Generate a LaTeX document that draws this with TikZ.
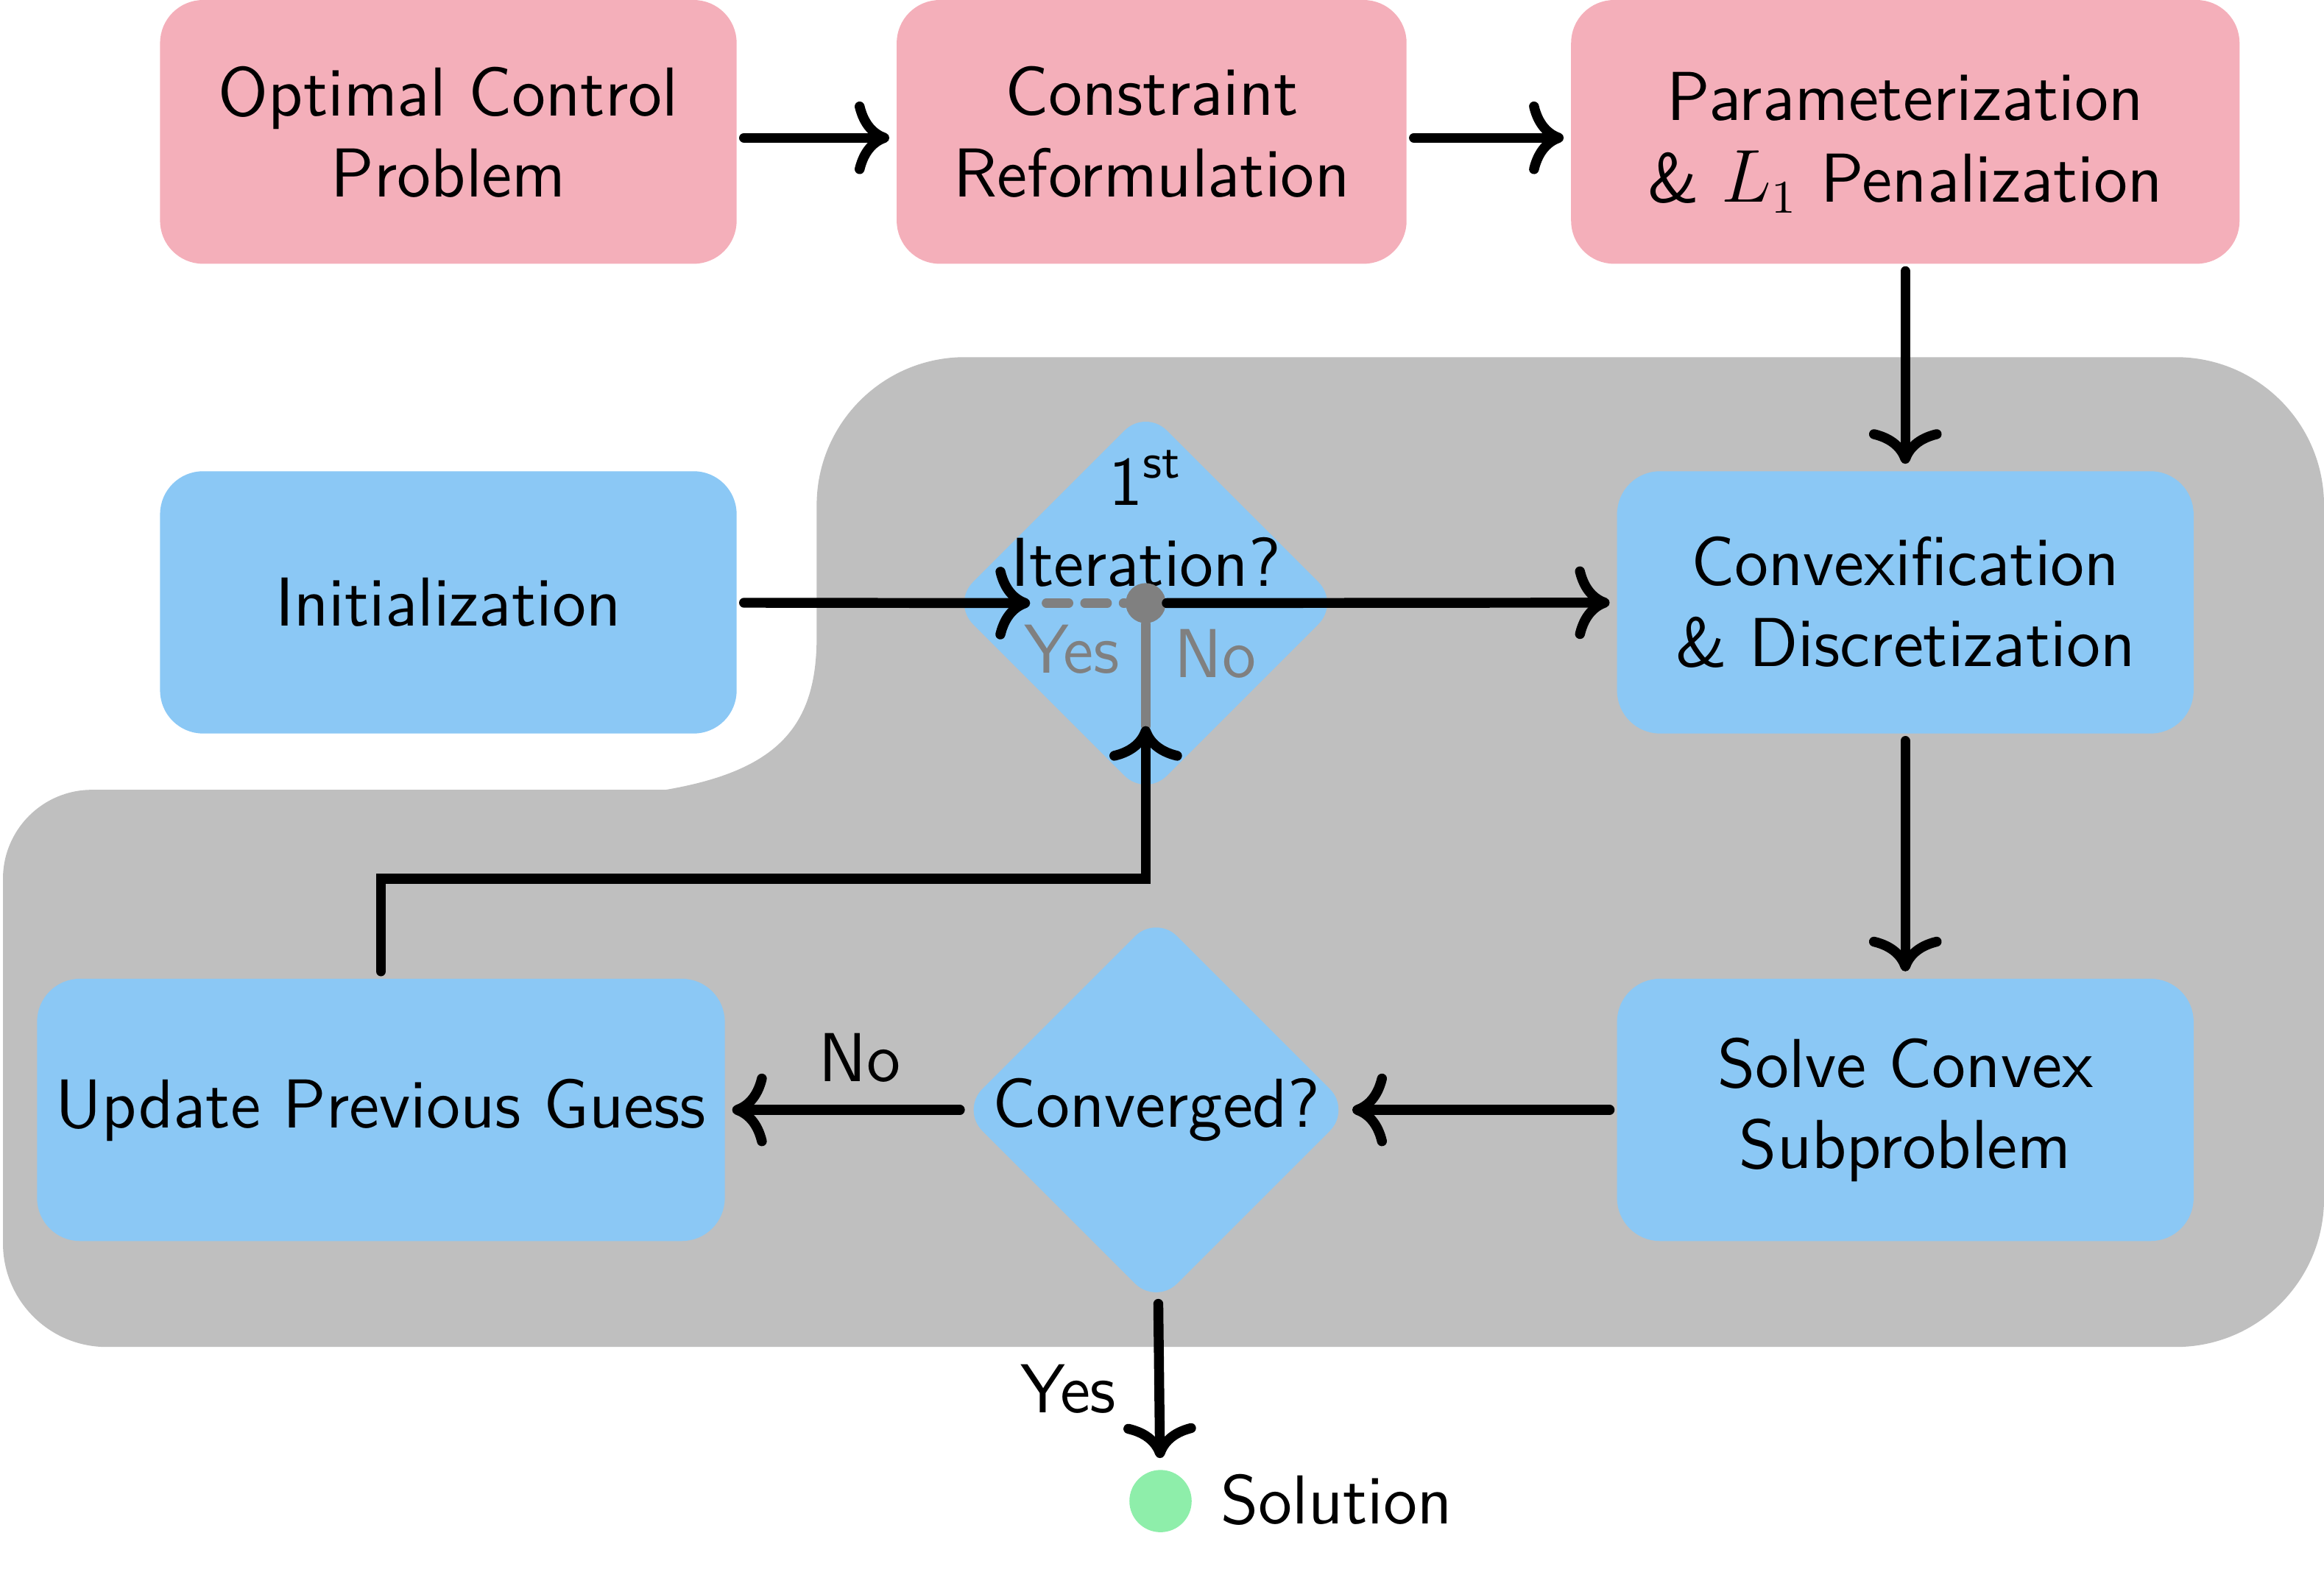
\documentclass[tikz,border=0pt]{standalone}
\usepackage{fontspec}
\usepackage{amsmath}
\usetikzlibrary{arrows.meta,shapes.geometric}

\definecolor{setuppink}{RGB}{244,175,186}
\definecolor{loopblue}{RGB}{139,200,245}
\definecolor{solgreen}{RGB}{142,238,170}

\begin{document}
\begin{tikzpicture}[
	font=\sffamily\fontsize{13.3}{15.6}\selectfont,
	line cap=round,
	setup/.style={fill=setuppink,rounded corners=0.29cm,minimum height=1.78cm,align=center,inner sep=0pt,outer sep=0.05cm},
	loopbox/.style={fill=loopblue,rounded corners=0.29cm,minimum height=1.77cm,align=center,inner sep=0pt,outer sep=0.05cm},
	check/.style={diamond,fill=loopblue,rounded corners=0.2cm,minimum width=2.62cm,minimum height=2.62cm,inner sep=0pt},
	flow/.style={-{To[scale=1.15]},line width=1.9pt},
	switch/.style={gray,line width=1.8pt}
]
\useasboundingbox (0,0) rectangle (15.68,-10.70);

% ITERATION REGION

\fill[gray!50] (0.02,-8.39)
	-- (0.02,-5.93) arc[start angle=180,end angle=90,radius=0.6]
	-- (4.49,-5.33) .. controls (5.25,-5.2) and (5.51,-4.9) .. (5.51,-4.3)
	-- (5.51,-3.41) arc[start angle=180,end angle=90,radius=1]
	-- (14.68,-2.41) arc[start angle=90,end angle=0,radius=1]
	-- (15.68,-8.09) arc[start angle=0,end angle=-90,radius=1]
	-- (0.72,-9.09) arc[start angle=270,end angle=180,radius=0.7]
	-- cycle;

% PROBLEM SETUP

\node[setup,minimum width=3.89cm] (ocp) at (3.025,-0.89) {Optimal Control\\Problem};
\node[setup,minimum width=3.44cm] (cref) at (7.77,-0.89) {Constraint\\Reformulation};
\node[setup,minimum width=4.51cm] (param) at (12.855,-0.89) {\rule{0pt}{0.47cm}Parameterization\\\& $L_1$ Penalization};

\draw[flow] ([yshift=-0.04cm]ocp.east) -- ([yshift=-0.04cm]cref.west);
\draw[flow] ([yshift=-0.04cm]cref.east) -- ([yshift=-0.04cm]param.west);

% SUCCESSIVE CONVEXIFICATION LOOP

\node[loopbox,minimum width=3.89cm] (init) at (3.025,-4.065) {Initialization};
\node[check] (first) at (7.73,-4.07) {};
\node[align=center] (firsttxt) at (7.73,-3.50) {1\textsuperscript{st}\\Iteration?};
\node[loopbox,minimum width=3.89cm] (cvx) at (12.855,-4.065) {Convexification\\\& Discretization};
\node[loopbox,minimum width=3.89cm] (solve) at (12.855,-7.49) {Solve Convex\\Subproblem};
\node[check] (conv) at (7.80,-7.49) {Converged?};
\node[loopbox,minimum width=4.64cm] (update) at (2.57,-7.49) {Update Previous Guess};

% switch
\coordinate (swin) at (6.95,-4.07);
\coordinate (swlow) at (7.73,-4.90);
\coordinate (loopcorner) at (7.73,-5.93);
\node[circle,fill=gray,minimum size=0.27cm,inner sep=0pt] (pivot) at (7.73,-4.07) {};
\node[text=gray] (swyes) at (7.23,-4.38) {Yes};
\node[text=gray] (swno) at (8.20,-4.41) {No};

\draw[flow] (param) -- (cvx);
\draw[flow] (init) -- (swin);
\draw[switch,dash pattern=on 0.15cm off 0.11cm,dash phase=0.15cm] (swin) -- (pivot);
\draw[switch] (pivot) -- (swlow);
\draw[flow] (pivot) -- (cvx);
\draw[flow] (cvx) -- (solve);
\draw[flow] (solve) -- (conv);
\draw[flow] (conv) -- (update) node[above=1pt,pos=0.44] (convno) {No};
\draw[flow] (update) |- (loopcorner) -- (swlow);

% SOLUTION

\node[circle,fill=solgreen,minimum size=0.42cm,inner sep=0pt,outer sep=0.08cm] (sol) at (7.83,-10.13) {};
\node[anchor=west,inner sep=0pt] (soltxt) at (8.23,-10.12) {Solution};
\draw[flow] (conv) -- (sol) node[left=4pt,pos=0.55] (convyes) {Yes};

\end{tikzpicture}
\end{document}
